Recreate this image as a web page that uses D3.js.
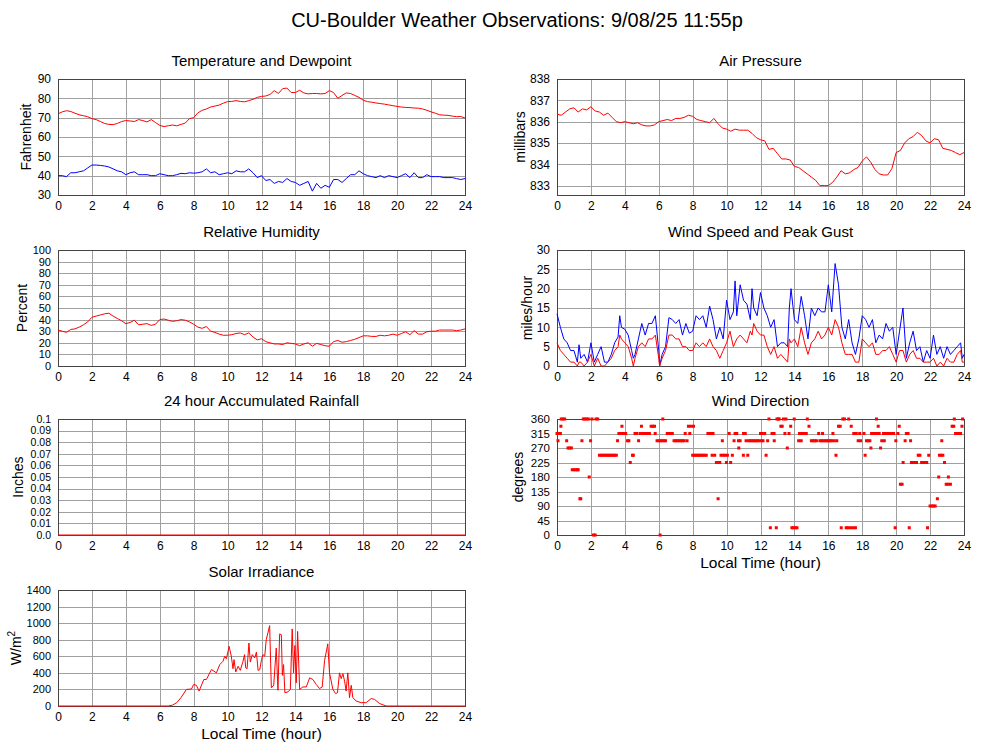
<!DOCTYPE html>
<meta charset="utf-8">
<style>
  body { margin: 0; background: #fff; }
  text { font-family: "Liberation Sans", Arial, Helvetica, sans-serif; fill: #000; }
</style>
<body>
<script src="https://cdn.jsdelivr.net/npm/d3@7"></script>
<script>
var width = 1000;
var height = 745;

// ---- data ----
var hourTicks = [0, 2, 4, 6, 8, 10, 12, 14, 16, 18, 20, 22, 24];
var quarterHours = d3.range(0, 24.001, 0.25);

var temperature = [72,73,73.6,73.2, 72.3,71.5,71,70.5, 69.5,69,68,67, 66.5,66.4,67,68,
  68.5,68.3,68,69, 68.5,67.8,69,67.5, 66,65.4,65.8,66.2, 65.8,66.5,67.2,69.5,
  70,72.5,73.8,74.5, 75.5,76,76.5,77.5, 78.3,78.4,78.8,78.4, 78.2,78.8,79.5,80.5,
  81,81.2,82,84, 82.5,85,85.3,83, 83,84.2,82.8,82.3, 82.5,82.5,82.3,82.5,
  84,83,80,81.5, 82.8,82.5,81.5,80.5, 79,78.3,78,77.6, 77.3,77,76.6,76.2,
  75.8,75.5,75.3,75.2, 75,74.9,74.5,73.8, 73,72.3,71.5,71.3, 71.2,70.8,70.5,70.6, 69.8];

var dewpoint = [40,40,39.5,41.5, 41.5,42,42.5,44, 45.5,45.5,45.3,45, 44.5,43.5,42.5,42,
  40.5,41.5,42,40.5, 40.5,40.5,40,40, 41,40.5,40,40, 40.5,41.2,41,41.5,
  41.3,41.5,42,43.5, 41.5,42,40.5,41, 41.5,41,42.5,42, 42,43.5,41.5,39,
  40,37.5,38,36, 37,36.5,38.5,37, 36.5,35,36,37, 32,36,33.5,35,
  34,38,38,36.5, 38.5,40.5,40.5,42.5, 41,40,39.5,39, 40,39,40,39.5,
  39,40,41,39, 41.5,39,39,40.5, 39.5,39.5,39.5,39, 39,39,38.5,38, 38.5];

var humidity = [31,30,29,31.5, 32,33.5,35.5,38, 42,43,44,45, 45.5,43,41,39,
  36.5,37.5,39.5,35.5, 36,36.5,35,36, 40,40.5,39.5,38.5, 39,40,39.5,38,
  36,33.5,32.5,34, 30,29,27.5,26.5, 26.5,27,28,28.5, 27,28.5,25,22.5,
  23.5,21,20,19, 19,18.5,20,19.5, 19,17.5,19,20, 17,19.5,18.5,17.5,
  17,21,22,20.5, 21,22,23,24.5, 26,26,25.5,25.5, 26.5,26,26.5,27.5,
  26.5,28,29.5,27, 30.5,27.5,27.5,29.5, 30,30,31,31, 31,31,30.5,31, 32];

var pressure = [836.35,836.3,836.45,836.6, 836.65,836.45,836.6,836.55, 836.7,836.5,836.45,836.3,
  836.4,836.2,836.0,835.95, 836.0,835.95,835.9,835.95, 835.85,835.8,835.8,835.85,
  836.0,836.05,836.1,836.05, 836.15,836.15,836.2,836.3, 836.25,836.1,836.05,836.0,
  835.95,836.15,835.9,835.7, 835.65,835.55,835.65,835.6, 835.6,835.6,835.45,835.25,
  835.15,835.1,834.7,834.75, 834.5,834.25,834.25,834.2, 833.9,833.85,833.7,833.55,
  833.4,833.25,833.0,833.0, 833.0,833.15,833.4,833.7, 833.55,833.6,833.75,833.85,
  834.15,834.35,834.1,833.75, 833.55,833.5,833.5,833.8, 834.55,834.65,835.0,835.2,
  835.3,835.5,835.35,835.1, 835.0,835.2,835.15,834.75, 834.7,834.65,834.55,834.45, 834.55];

var rainfall = [0, 0];
var rainHours = [0, 24];

var windHours = [0,0.2,0.4,0.6,0.8,1.0,1.2,1.3,1.4,1.6,1.8,2.0,2.2,2.4,2.6,2.8,3.0,3.2,3.4,3.6,3.7,3.8,
  4.0,4.2,4.4,4.5,4.6,4.8,5.0,5.2,5.4,5.6,5.8,6.0,6.05,6.2,6.4,6.6,6.8,7.0,7.2,7.4,7.6,7.8,
  8.0,8.2,8.4,8.6,8.8,9.0,9.2,9.4,9.6,9.8,10.0,10.2,10.4,10.5,10.6,10.8,11.0,11.2,11.4,11.5,11.6,11.8,
  12.0,12.2,12.4,12.6,12.8,13.0,13.2,13.4,13.6,13.7,13.8,14.0,14.2,14.4,14.6,14.8,
  15.0,15.2,15.4,15.6,15.8,16.0,16.2,16.4,16.6,16.8,17.0,17.2,17.4,17.6,17.8,
  18.0,18.2,18.4,18.6,18.8,19.0,19.2,19.4,19.6,19.8,20.0,20.2,20.4,20.6,20.8,
  21.0,21.2,21.4,21.6,21.8,22.0,22.2,22.4,22.6,22.8,23.0,23.2,23.4,23.6,23.8,23.9,24.0];
var windSpeed = [6,4,3,2,1,1,0,1,1,0,1,3,0,2,0,0,1,2,4,5,8,7,
  6,5,2,0,2,5,6,5,7,7,8,2,0,2,4,8,8,7,7,5,5,4,
  4,6,5,6,5,7,5,4,2,4,6,9,5,6,7,8,7,6,9,8,11,9,
  8,8,5,3,5,2,3,2,1,7,6,7,5,10,6,3,
  6,7,9,7,8,10,8,12,10,6,3,3,3,1,1,
  7,6,5,6,3,3,4,4,5,3,1,4,4,1,3,
  4,2,2,1,1,1,2,0,1,0,2,1,1,3,4,1,1];
var windGust = [13.5,10,7,6,4,4,1,5.5,2,3,1,6,1,3,5,1,1,3,6,7.5,13,10,
  9.5,8,4,2,3,7,11,8,11,11,13,4,0,3,5,12.5,12,11,12,8,11,8.5,
  9,13,12,13,10,15.5,12,7,10,7,17,12,14,22,13,21,17,16,12,20,15,13,
  19,15,13,10,12,5,6,6,5,15,20,12,11,18,13,7,
  15,13,15,14,14,21,14,26.5,21,10,7,12,6,3,7,
  13,12,10,12,6,8,7,11,9,10,3,9,15,2,6,
  9,4,5,1,4,2,8,3,5,2,5,3,4,5,6,2,3];

// wind direction samples: [hour, degrees]
var windDirection = [
  [0,315],[0.06,292.5],[0.1,315],[0.2,315],[0.23,337.5],[0.25,360],[0.35,360],[0.45,360],[0.57,292.5],
  [0.65,270],[0.75,270],[0.85,270],[0.9,202.5],[1.0,202.5],[1.1,202.5],[1.2,202.5],[1.25,202.5],
  [1.35,112.5],[1.4,112.5],[1.47,292.5],[1.55,360],[1.65,360],[1.75,360],[1.85,360],[1.9,180],
  [1.98,292.5],[2.06,360],[2.15,0],[2.25,0],[2.3,360],[2.4,360],
  [2.5,247.5],[2.6,247.5],[2.7,247.5],[2.8,247.5],[2.9,247.5],[3.0,247.5],[3.1,247.5],[3.2,247.5],
  [3.3,247.5],[3.4,247.5],[3.5,247.5],[3.57,292.5],[3.65,315],[3.75,315],[3.83,337.5],[3.85,315],
  [3.95,315],[4.05,315],[4.16,292.5],[4.24,292.5],[4.32,225],[4.45,247.5],[4.5,247.5],
  [4.6,315],[4.7,315],[4.81,292.5],[4.9,315],[4.98,337.5],[5.05,315],[5.15,315],[5.25,315],[5.35,315],
  [5.45,315],[5.55,337.5],[5.65,337.5],[5.75,337.5],[5.79,315],[5.9,292.5],[6.0,292.5],[6.08,0],
  [6.1,292.5],[6.2,292.5],[6.24,360],[6.3,292.5],[6.4,292.5],[6.5,315],[6.6,315],[6.7,315],[6.8,315],
  [6.9,292.5],[7.0,292.5],[7.1,292.5],[7.2,292.5],[7.3,292.5],[7.4,292.5],[7.5,292.5],[7.56,315],
  [7.67,292.5],[7.75,337.5],[7.83,315],[7.9,337.5],[8.0,247.5],[8.05,337.5],[8.1,247.5],[8.2,247.5],
  [8.3,247.5],[8.4,247.5],[8.5,247.5],[8.6,247.5],[8.7,247.5],[8.8,247.5],[8.9,315],[9.0,315],
  [9.1,315],[9.15,247.5],[9.2,315],[9.3,247.5],[9.4,225],[9.5,112.5],[9.55,225],[9.6,225],
  [9.67,247.5],[9.75,292.5],[9.8,247.5],[9.9,247.5],[9.99,225],[10.05,247.5],[10.15,315],
  [10.24,225],[10.34,247.5],[10.44,292.5],[10.5,315],[10.6,315],[10.7,292.5],[10.72,270],
  [10.8,292.5],[10.99,247.5],[11.0,315],[11.1,315],[11.15,292.5],[11.25,247.5],[11.3,292.5],
  [11.4,292.5],[11.5,292.5],[11.6,292.5],[11.7,292.5],[11.8,292.5],[11.9,292.5],[12.0,315],
  [12.05,292.5],[12.1,315],[12.15,292.5],[12.25,315],[12.33,247.5],[12.42,292.5],[12.5,360],
  [12.58,22.5],[12.68,315],[12.8,315],[12.81,292.5],[12.93,22.5],[12.97,360],[13.05,360],[13.1,360],
  [13.2,337.5],[13.28,337.5],[13.35,360],[13.44,315],[13.5,360],[13.58,270],[13.68,315],[13.78,337.5],
  [13.85,22.5],[13.95,22.5],[13.99,360],[14.05,22.5],[14.15,22.5],[14.25,292.5],[14.3,315],
  [14.4,292.5],[14.45,315],[14.55,315],[14.65,315],[14.7,315],[14.76,360],[14.86,337.5],
  [15.0,292.5],[15.1,292.5],[15.2,292.5],[15.3,292.5],[15.43,315],[15.5,292.5],[15.6,292.5],
  [15.66,315],[15.7,292.5],[15.8,292.5],[15.9,292.5],[16.0,292.5],[16.1,292.5],[16.2,292.5],
  [16.27,315],[16.35,292.5],[16.45,247.5],[16.5,292.5],[16.6,337.5],[16.7,337.5],[16.76,22.5],
  [16.85,360],[16.95,360],[17.05,22.5],[17.15,22.5],[17.2,360],[17.3,22.5],[17.35,337.5],
  [17.45,22.5],[17.5,315],[17.6,22.5],[17.65,315],[17.76,292.5],[17.85,315],[17.9,292.5],
  [18.1,315],[18.17,247.5],[18.25,292.5],[18.35,292.5],[18.45,292.5],[18.51,270],[18.55,315],
  [18.65,315],[18.75,315],[18.84,360],[18.88,315],[18.94,337.5],[19.0,315],[19.08,270],
  [19.15,292.5],[19.25,315],[19.3,292.5],[19.35,315],[19.45,315],[19.55,315],[19.65,315],
  [19.75,315],[19.85,315],[19.94,22.5],[19.98,292.5],[20.1,315],[20.18,337.5],[20.25,157.5],
  [20.35,157.5],[20.41,225],[20.53,292.5],[20.6,315],[20.7,315],[20.77,22.5],[20.85,292.5],
  [20.9,225],[21.0,225],[21.1,225],[21.2,225],[21.3,247.5],[21.4,247.5],[21.5,225],[21.6,225],
  [21.7,225],[21.8,225],[21.85,22.5],[21.92,247.5],[22.0,90],[22.1,90],[22.2,90],[22.3,90],
  [22.43,112.5],[22.51,180],[22.55,247.5],[22.65,247.5],[22.69,292.5],[22.75,247.5],[22.85,225],
  [22.95,157.5],[23.05,157.5],[23.08,180],[23.2,157.5],[23.3,337.5],[23.4,337.5],[23.43,360],
  [23.5,315],[23.6,315],[23.7,315],[23.8,315],[23.88,337.5],[23.92,360]];

var solarHours = [0,6.5,6.75,7.0,7.25,7.57,7.87,8.0,8.16,8.32,8.6,8.75,9.05,9.34,9.54,9.73,9.83,9.93,
  10.09,10.22,10.32,10.38,10.48,10.62,10.75,10.91,11.0,11.07,11.15,11.26,11.34,11.46,11.6,11.7,
  11.8,11.9,12.0,12.09,12.19,12.28,12.48,12.58,12.72,12.87,12.97,13.07,13.17,13.23,13.3,13.38,
  13.56,13.7,13.81,13.89,13.97,14.05,14.13,14.25,14.44,14.64,14.84,15.03,15.23,15.42,15.58,
  15.72,15.91,16.01,16.21,16.37,16.48,16.6,16.7,16.8,16.9,16.99,17.09,17.19,17.29,17.39,
  17.58,17.88,18.17,18.47,18.66,18.96,19.35,24];
var solarValues = [0,0,10,40,100,200,205,260,250,180,320,320,440,400,500,540,600,570,
  720,600,450,560,410,480,430,540,620,460,450,760,530,620,580,650,
  430,440,560,620,600,800,970,220,250,700,190,870,860,370,500,160,
  170,200,930,400,730,280,900,200,230,230,340,320,260,210,230,
  550,750,400,200,150,160,400,330,390,300,180,400,100,250,100,
  60,40,40,90,80,30,0,0];

var tempTicks = [30, 40, 50, 60, 70, 80, 90];
var pressureTicks = [833, 834, 835, 836, 837, 838];
var humidityTicks = [0, 10, 20, 30, 40, 50, 60, 70, 80, 90, 100];
var windTicks = [0, 5, 10, 15, 20, 25, 30];
var rainTicks = [0, 0.01, 0.02, 0.03, 0.04, 0.05, 0.06, 0.07, 0.08, 0.09, 0.1];
var directionTicks = [0, 45, 90, 135, 180, 225, 270, 315, 360];
var solarTicks = [0, 200, 400, 600, 800, 1000, 1200, 1400];

// ---- layout ----
var leftX = 58, rightX = 557;
var plotW = 407, plotH = 116;

var svg = d3.select("body")
  .append("svg")
  .attr("width", width)
  .attr("height", height);

svg.append("text")
  .attr("x", 517)
  .attr("y", 27)
  .attr("text-anchor", "middle")
  .style("font-size", "20px")
  .text("CU-Boulder Weather Observations: 9/08/25 11:55p");

function panel(px, py, title, yDomain, yTicks, yLabel, labelX, tickSize, tickFmt) {
  var g = svg.append("g").attr("transform", "translate(" + px + "," + py + ")");
  var x = d3.scaleLinear().domain([0, 24]).range([0, plotW]);
  var y = d3.scaleLinear().domain(yDomain).range([plotH, 0]);

  // grid
  g.append("g").selectAll("line")
    .data(hourTicks.slice(1, -1))
    .enter().append("line")
    .attr("x1", function(d) { return Math.round(x(d)) + 0.5; })
    .attr("x2", function(d) { return Math.round(x(d)) + 0.5; })
    .attr("y1", 0).attr("y2", plotH)
    .style("stroke", "#a0a0a0");
  g.append("g").selectAll("line")
    .data(yTicks.filter(function(d) { return y(d) > 1 && y(d) < plotH - 1; }))
    .enter().append("line")
    .attr("y1", function(d) { return Math.round(y(d)) + 0.5; })
    .attr("y2", function(d) { return Math.round(y(d)) + 0.5; })
    .attr("x1", 0).attr("x2", plotW)
    .style("stroke", "#a0a0a0");

  // axes (labels only)
  var xa = g.append("g").attr("transform", "translate(0," + plotH + ")")
    .call(d3.axisBottom(x).tickValues(hourTicks).tickSize(0).tickPadding(6).tickFormat(d3.format("d")));
  var ya = g.append("g")
    .call(d3.axisLeft(y).tickValues(yTicks).tickSize(0).tickPadding(7).tickFormat(tickFmt || d3.format("d")));
  [xa, ya].forEach(function(a) {
    a.select(".domain").remove();
    a.selectAll("text").style("font-family", "'Liberation Sans', Arial, sans-serif").attr("fill", "#000");
  });
  xa.selectAll("text").style("font-size", "12px");
  ya.selectAll("text").style("font-size", tickSize + "px");

  g.append("rect")
    .attr("x", 0.5).attr("y", 0.5)
    .attr("width", plotW).attr("height", plotH)
    .style("fill", "none")
    .style("stroke", "#444");

  g.append("text")
    .attr("x", plotW / 2)
    .attr("y", -13)
    .attr("text-anchor", "middle")
    .style("font-size", "15px")
    .text(title);

  var lab = g.append("text")
    .attr("transform", "translate(" + labelX + "," + plotH / 2 + ") rotate(-90)")
    .attr("text-anchor", "middle")
    .attr("dy", "0.35em")
    .style("font-size", "14px");
  if (typeof yLabel === "string") lab.text(yLabel);
  else yLabel(lab);

  return { g: g, x: x, y: y };
}

function drawLine(p, xs, ys, color) {
  var line = d3.line()
    .x(function(d, i) { return p.x(xs[i]); })
    .y(function(d) { return p.y(d); });
  p.g.append("path")
    .datum(ys)
    .attr("d", line)
    .style("fill", "none")
    .style("stroke", color)
    .style("stroke-width", 1);
}

function xLabel(p) {
  p.g.append("text")
    .attr("x", plotW / 2)
    .attr("y", plotH + 33)
    .attr("text-anchor", "middle")
    .style("font-size", "15.5px")
    .text("Local Time (hour)");
}

// Temperature and Dewpoint
var pT = panel(leftX, 79, "Temperature and Dewpoint", [30, 90], tempTicks, "Fahrenheit", -32, 12);
drawLine(pT, quarterHours, temperature, "#ff0000");
drawLine(pT, quarterHours, dewpoint, "#0000ff");

// Air Pressure
var pP = panel(rightX, 79, "Air Pressure", [832.56, 838], pressureTicks, "millibars", -37, 12);
drawLine(pP, quarterHours, pressure, "#ff0000");

// Relative Humidity
var pH = panel(leftX, 250, "Relative Humidity", [0, 100], humidityTicks, "Percent", -36, 11);
drawLine(pH, quarterHours, humidity, "#ff0000");

// Wind Speed and Peak Gust
var pW = panel(rightX, 250, "Wind Speed and Peak Gust", [0, 30], windTicks, "miles/hour", -30, 12);
drawLine(pW, windHours, windGust, "#0000ff");
drawLine(pW, windHours, windSpeed, "#ff0000");

// Rainfall
var pR = panel(leftX, 419, "24 hour Accumulated Rainfall", [0, 0.1], rainTicks, "Inches", -40, 10.5,
  function(d) { return d === 0 ? "0.0" : d3.format(".2~f")(d); });
drawLine(pR, rainHours, rainfall, "#ff0000");

// Wind Direction
var pD = panel(rightX, 419, "Wind Direction", [0, 360], directionTicks, "degrees", -39, 11.5);
pD.g.append("g").selectAll("rect")
  .data(windDirection)
  .enter().append("rect")
  .attr("x", function(d) { return pD.x(d[0]) - 1.5; })
  .attr("y", function(d) { return pD.y(d[1]) - 1.5; })
  .attr("width", 3)
  .attr("height", 3)
  .style("fill", "#ff0000");
xLabel(pD);

// Solar Irradiance
var pS = panel(leftX, 590, "Solar Irradiance", [0, 1400], solarTicks, function(t) {
  t.append("tspan").text("W/m");
  t.append("tspan").attr("dy", "-0.6em").style("font-size", "10px").text("2");
}, -42, 11);
drawLine(pS, solarHours, solarValues, "#ff0000");
xLabel(pS);
</script>
